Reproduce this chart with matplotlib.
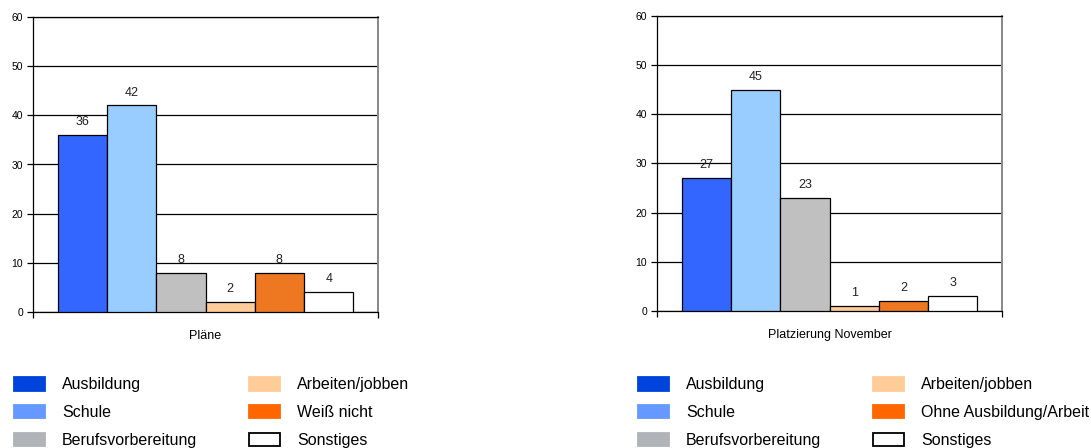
import matplotlib
matplotlib.use("Agg")
import matplotlib.pyplot as plt
from matplotlib.patches import Patch

plt.rcParams['font.family'] = ['Liberation Sans', 'DejaVu Sans']

# data
kategorien_links = ['Ausbildung', 'Schule', 'Berufsvorbereitung',
                    'Arbeiten/jobben', 'Weiß nicht', 'Sonstiges']
werte_links = [36, 42, 8, 2, 8, 4]
titel_links = 'Pläne'

kategorien_rechts = ['Ausbildung', 'Schule', 'Berufsvorbereitung',
                     'Arbeiten/jobben', 'Ohne Ausbildung/Arbeit', 'Sonstiges']
werte_rechts = [27, 45, 23, 1, 2, 3]
titel_rechts = 'Platzierung November'

yticks = [0, 10, 20, 30, 40, 50, 60]

# Farben (Balken und Legende weichen im Original leicht ab)
balken_farben = ['#3366FF', '#99CCFF', '#C0C0C0', '#FFCC99', '#EE7722', '#FFFFFF']
legende_farben = ['#0044DD', '#6699FF', '#B0B4B8', '#FFCC99', '#FF6600', '#FFFFFF']

W, H = 1091, 448
fig = plt.figure(figsize=(W / 100, H / 100), dpi=100)


def panel(rect, kategorien, werte, titel):
    ax = fig.add_axes(rect)
    x = list(range(len(werte)))
    bars = ax.bar(x, werte, width=1.0, color=balken_farben,
                  edgecolor='black', linewidth=0.9, zorder=3)
    for b, v in zip(bars, werte):
        ax.annotate(str(v), (b.get_x() + b.get_width() / 2, v),
                    xytext=(0, 5), textcoords='offset points',
                    ha='center', va='bottom', fontsize=9, color='#222222')
    ax.set_xlim(-1.0, len(werte))
    ax.set_ylim(0, 60)
    ax.set_yticks(yticks)
    ax.yaxis.grid(True, color='black', linewidth=0.9, zorder=0)
    ax.tick_params(axis='y', length=4, width=0.9, labelsize=7.5, pad=3)
    # Kategorieachse: Beschriftung in der Mitte, Striche an den Enden
    ax.set_xticks([(len(werte) - 1) / 2])
    ax.set_xticklabels([titel], fontsize=9)
    ax.tick_params(axis='x', which='major', length=0, pad=13)
    ax.set_xticks([-1.0, len(werte)], minor=True)
    ax.tick_params(axis='x', which='minor', length=4, width=0.9)
    for s in ['left', 'bottom', 'top']:
        ax.spines[s].set_color('black')
        ax.spines[s].set_linewidth(0.9)
    ax.spines['right'].set_color('#888888')
    ax.spines['right'].set_linewidth(1.4)

    handles = [Patch(facecolor=c, edgecolor='black' if c == '#FFFFFF' else c,
                     linewidth=1.3) for c in legende_farben]
    return ax, handles


def legende(handles, labels, x_px, y_px):
    fig.legend(handles, labels, loc='upper left',
               bbox_to_anchor=(x_px / W, 1 - y_px / H),
               frameon=False, fontsize=11.5, borderpad=0, borderaxespad=0,
               handlelength=1.94, handleheight=0.94, handletextpad=1.06,
               labelspacing=0.78)


ax1, h1 = panel([33 / W, (H - 312) / H, 345 / W, 295 / H],
                kategorien_links, werte_links, titel_links)
ax2, h2 = panel([657 / W, (H - 311) / H, 345 / W, 295 / H],
                kategorien_rechts, werte_rechts, titel_rechts)

# Legende in zwei Spalten je Diagramm
legende(h1[:3], kategorien_links[:3], 14, 377)
legende(h1[3:], kategorien_links[3:], 249, 377)
legende(h2[:3], kategorien_rechts[:3], 638, 377)
legende(h2[3:], kategorien_rechts[3:], 873, 377)

fig.savefig('out.png', dpi=100)
